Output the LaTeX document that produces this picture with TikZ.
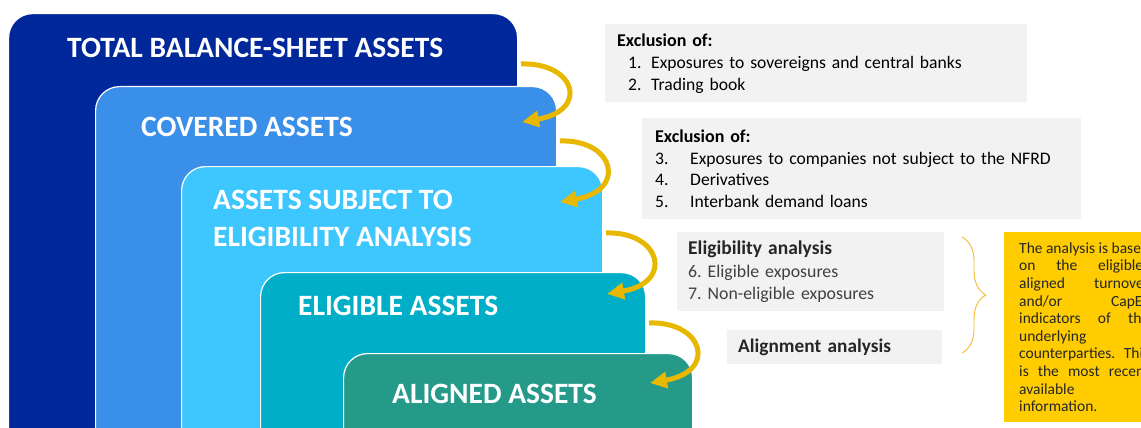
\documentclass[tikz,border=0pt]{standalone}
\usepackage{fontspec}
\setmainfont{Carlito}
\usepackage{xcolor}
\usepackage{tikz}
\usetikzlibrary{positioning,arrows.meta,calc,decorations.pathreplacing}

\definecolor{totalblue}{RGB}{0,40,155}
\definecolor{coveredblue}{RGB}{58,143,232}
\definecolor{subjectblue}{RGB}{62,198,255}
\definecolor{eligibleteal}{RGB}{0,174,199}
\definecolor{alignedgreen}{RGB}{38,154,137}
\definecolor{notegray}{RGB}{242,242,242}
\definecolor{noteyellow}{RGB}{255,204,0}
\definecolor{arrowgold}{RGB}{232,184,0}
\definecolor{bracegold}{RGB}{245,185,50}
\definecolor{darktext}{RGB}{38,38,38}
\definecolor{graytext}{RGB}{64,64,64}

\tikzset{
  assetbox/.style={draw=white, line width=1.2, rounded corners=24, anchor=north west, inner sep=0},
  assetlabel/.style={text=white, font=\fontsize{29.5}{37}\selectfont\bfseries, anchor=west, align=left, inner sep=0},
  notebox/.style={fill=notegray, anchor=north west, align=left, inner xsep=12, inner ysep=0},
  excarrow/.style={draw=arrowgold, line width=5, -{Triangle[length=17, width=16]}},
}
\newcommand{\itm}[2]{\makebox[#1][l]{#2}}

\begin{document}
\frenchspacing
\begin{tikzpicture}[x=1pt,y=-1pt]
  \useasboundingbox (0,0) rectangle (1141,428);
  \clip (0,0) rectangle (1141,428);

  % nested asset boxes
  \node[assetbox, fill=totalblue, minimum width=509, minimum height=460] (total) at (8,13) {};
  \node[assetbox, fill=coveredblue, minimum width=461, minimum height=400] (covered) at (95,86) {};
  \node[assetbox, fill=subjectblue, minimum width=421, minimum height=320] (subject) at (181,166) {};
  \node[assetbox, fill=eligibleteal, minimum width=385, minimum height=220] (eligible) at (260,272) {};
  \node[assetbox, fill=alignedgreen, minimum width=349, minimum height=140] (aligned) at (343,353) {};

  \node[assetlabel] (totallbl) at (67,48) {TOTAL BALANCE-SHEET ASSETS};
  \node[assetlabel] (coveredlbl) at (141,127) {COVERED ASSETS};
  \node[assetlabel] (subjectlbl) at (213,218) {ASSETS SUBJECT TO\\ELIGIBILITY ANALYSIS};
  \node[assetlabel] (eligiblelbl) at (298,306) {ELIGIBLE ASSETS};
  \node[assetlabel] (alignedlbl) at (392,394) {ALIGNED ASSETS};

  % exclusion notes
  \node[notebox, minimum width=422, minimum height=78, text width=398,
        font=\fontsize{17.6}{22}\selectfont] (excl1) at (605,24)
    {{\fontsize{18}{22}\selectfont\bfseries Exclusion of:}\\
     \hspace*{11pt}\itm{23pt}{1.}Exposures to sovereigns and central banks\\
     \hspace*{11pt}\itm{23pt}{2.}Trading book};
  \node[notebox, minimum width=439, minimum height=101, text width=413, inner xsep=13,
        font=\fontsize{17.6}{21.7}\selectfont] (excl2) at (642,118)
    {{\fontsize{18}{21.7}\selectfont\bfseries Exclusion of:}\\
     \itm{35pt}{3.}Exposures to companies not subject to the NFRD\\
     \itm{35pt}{4.}Derivatives\\
     \itm{35pt}{5.}Interbank demand loans};
  \node[notebox, minimum width=267, minimum height=79, text width=245, inner xsep=11,
        font=\fontsize{17.8}{22.5}\selectfont, text=graytext] (elignote) at (677,232)
    {\textcolor{darktext}{\fontsize{19.5}{22.5}\selectfont\bfseries Eligibility analysis}\\
     6. Eligible exposures\\
     7. Non-eligible exposures};
  \node[notebox, minimum width=215, minimum height=34, text width=193, inner xsep=11,
        font=\fontsize{19.3}{22}\selectfont\bfseries, text=darktext] (alignnote) at (727,330)
    {Alignment analysis};

  % brace and data note
  \coordinate (bracetop) at (962,237);
  \coordinate (bracebot) at (962,353);
  \draw[bracegold, line width=0.9, decorate, decoration={brace, amplitude=24}] (bracetop) -- (bracebot);
  \node[fill=noteyellow, anchor=north west, minimum width=160, minimum height=190,
        text width=130, inner xsep=13, inner ysep=0, align=justify, text=darktext,
        font=\fontsize{15.5}{17.6}\selectfont] (datanote) at (1004,232)
    {The analysis is based\linebreak on the eligible/\linebreak aligned turnover\linebreak
     and/or CapEx\linebreak indicators of the\linebreak underlying\linebreak
     counterparties. This\linebreak is the most recent\linebreak available\linebreak information.};

  % curved arrows between levels
  \coordinate (s1) at (521,64);  \coordinate (t1) at (522,122);
  \coordinate (s2) at (560,141); \coordinate (t2) at (560,202);
  \coordinate (s3) at (606,233); \coordinate (t3) at (607,294);
  \coordinate (s4) at (649,323); \coordinate (t4) at (650,383);
  \foreach \s/\t in {s1/t1,s2/t2,s3/t3,s4/t4}
    \draw[excarrow] (\s) .. controls +(54,-2) and +(68,-12) .. (\t);
\end{tikzpicture}
\end{document}
